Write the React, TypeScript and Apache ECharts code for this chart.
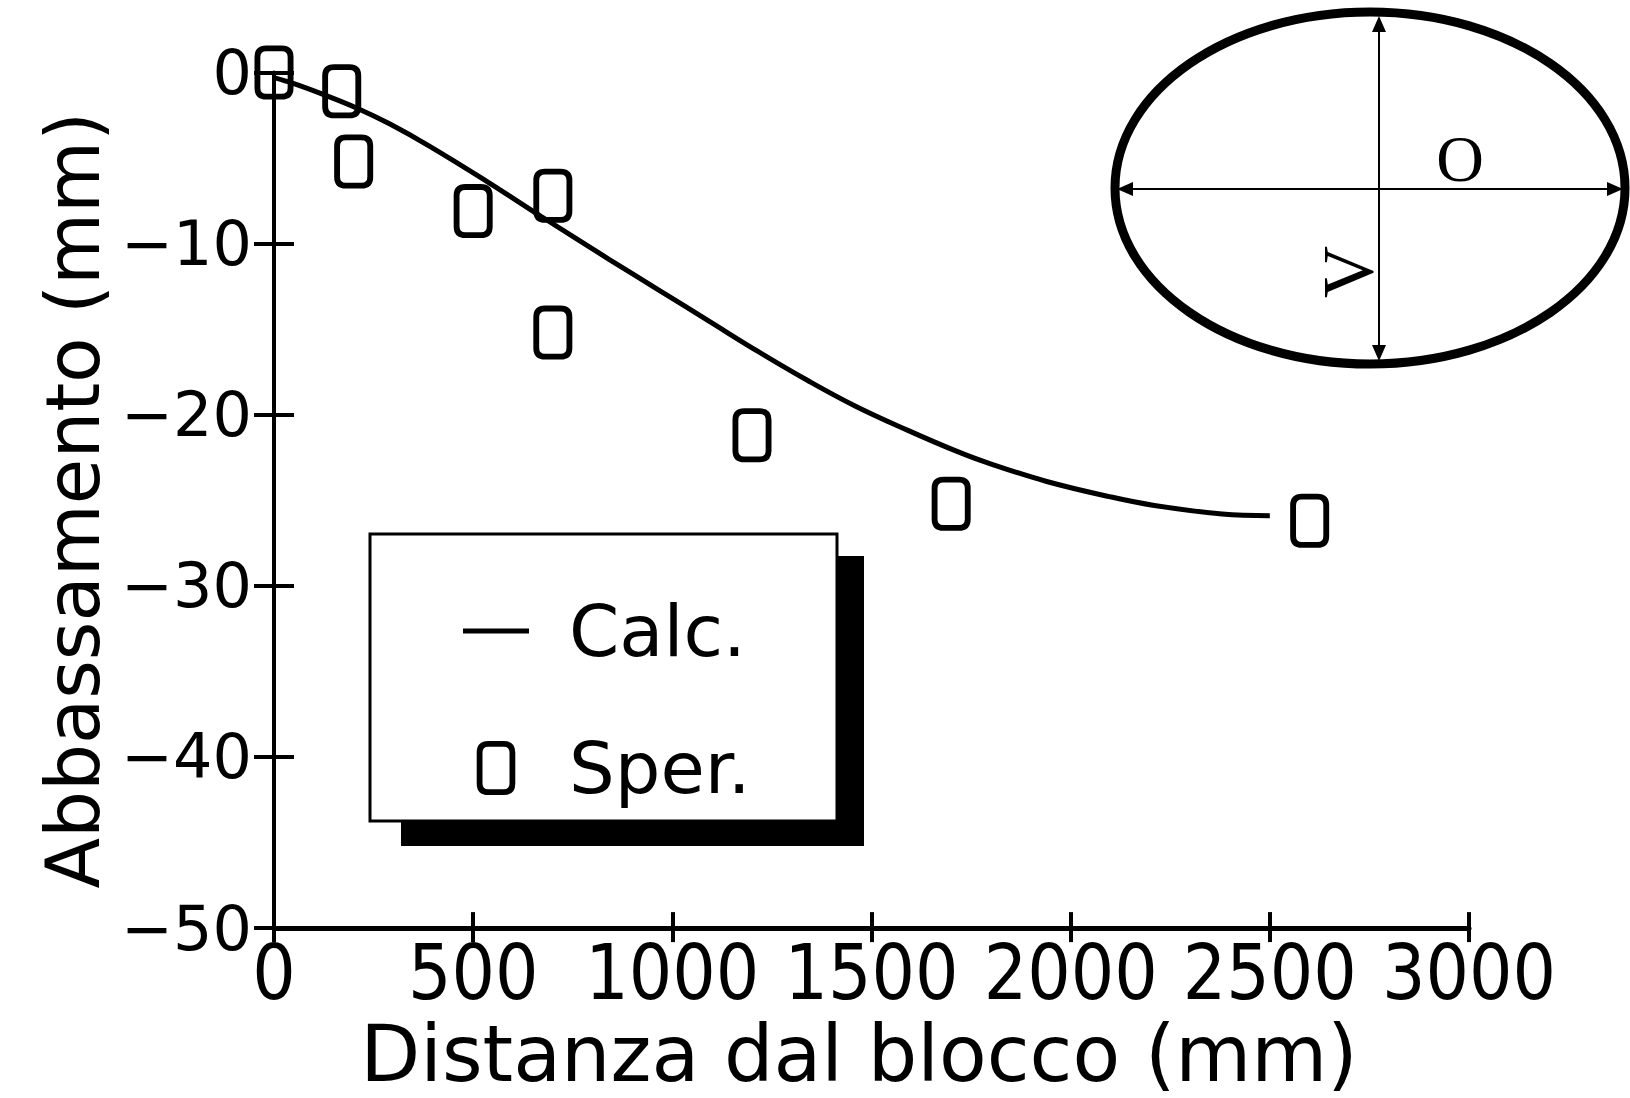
import React, { useEffect, useRef } from "react";
import * as echarts from "echarts";

// Experimental points ("Sper.")
const sperX = [0, 170, 200, 500, 700, 700, 1200, 1700, 2600];
const sperY = [0, -1.1, -5.2, -8.1, -7.2, -15.2, -21.2, -25.2, -26.2];

// Calculated curve ("Calc.")
const calcX = [0, 50, 120, 210, 290, 390, 530, 670, 840, 965, 1090, 1215, 1340, 1460, 1590, 1710, 1790, 1940, 2100, 2210, 2380, 2500];
const calcY = [-0.3, -0.65, -1.25, -2.1, -3.0, -4.3, -6.3, -8.4, -10.9, -12.7, -14.5, -16.3, -18.0, -19.5, -20.9, -22.1, -22.8, -23.9, -24.8, -25.3, -25.8, -25.9];

const seriesNames = ["Calc.", "Sper."];
const xTitle = "Distanza dal blocco (mm)";
const yTitle = "Abbassamento (mm)";
const xRange = [0, 3000, 500];
const yRange = [-50, 0, 10];

const zeroSymbol =
  "path://M12,0 H28 Q40,0 40,12 V44 Q40,56 28,56 H12 Q0,56 0,44 V12 Q0,0 12,0 Z M12,6 Q6,6 6,12 V44 Q6,50 12,50 H28 Q34,50 34,44 V12 Q34,6 28,6 Z";
const lineIcon = "path://M0,0 H66 V5 H0 Z";

const fmtNum = (v: number) => (v < 0 ? "\u2212" + Math.abs(v) : String(v));

export default function App() {
  const ref = useRef<HTMLDivElement>(null);
  useEffect(() => {
    if (!ref.current) return;
    const chart = echarts.init(ref.current, null, { renderer: "svg" });
    const calcData = calcX.map((x, i) => [x, calcY[i]]);
    const sperData = sperX.map((x, i) => [x, sperY[i]]);
    const sansFont = "'DejaVu Sans', sans-serif";
    const narrowFont = "'Liberation Sans Narrow', 'DejaVu Sans Condensed', 'DejaVu Sans', sans-serif";
    const serifFont = "'Liberation Serif', 'DejaVu Serif', serif";
    const baseX = {
      type: "value",
      min: xRange[0],
      max: xRange[1],
      interval: xRange[2],
      splitLine: { show: false },
    };
    const baseY = {
      type: "value",
      min: yRange[0],
      max: yRange[1],
      interval: yRange[2],
      splitLine: { show: false },
    };
    chart.setOption({
      animation: false,
      backgroundColor: "#ffffff",
      grid: { left: 274, top: 72.5, right: 161, bottom: 163, containLabel: false },
      xAxis: [
        {
          ...baseX,
          position: "bottom",
          name: xTitle,
          nameLocation: "middle",
          nameGap: 80,
          nameTextStyle: { fontFamily: sansFont, fontSize: 78, color: "#000", padding: [0, 25, 0, 0] },
          axisLine: { show: true, onZero: false, lineStyle: { color: "#000", width: 5 } },
          axisTick: { show: true, inside: false, length: 14, lineStyle: { color: "#000", width: 4 } },
          axisLabel: {
            show: true,
            margin: 6,
            fontFamily: narrowFont,
            fontSize: 76,
            color: "#000",
            formatter: fmtNum,
          },
        },
        {
          ...baseX,
          position: "bottom",
          axisLine: { show: false, onZero: false },
          axisTick: { show: true, inside: true, length: 16, lineStyle: { color: "#000", width: 4 } },
          axisLabel: { show: false },
        },
      ],
      yAxis: [
        {
          ...baseY,
          position: "left",
          name: yTitle,
          nameLocation: "middle",
          nameRotate: 90,
          nameGap: 162,
          nameTextStyle: { fontFamily: sansFont, fontSize: 74, color: "#000" },
          axisLine: { show: true, onZero: false, lineStyle: { color: "#000", width: 4 } },
          axisTick: { show: true, inside: false, length: 20, lineStyle: { color: "#000", width: 4 } },
          axisLabel: {
            show: true,
            margin: 22,
            fontFamily: sansFont,
            fontSize: 62,
            color: "#000",
            formatter: fmtNum,
          },
        },
        {
          ...baseY,
          position: "left",
          axisLine: { show: false, onZero: false },
          axisTick: { show: true, inside: true, length: 20, lineStyle: { color: "#000", width: 4 } },
          axisLabel: { show: false },
        },
      ],
      legend: {
        orient: "vertical",
        left: 458,
        top: 590,
        itemWidth: 66,
        itemHeight: 54,
        itemGap: 65,
        selectedMode: false,
        textStyle: {
          fontFamily: sansFont,
          fontSize: 72,
          lineHeight: 72,
          color: "#000",
          padding: [0, 0, 0, 35],
        },
        data: [
          { name: seriesNames[0], icon: lineIcon, itemStyle: { color: "#000" } },
          { name: seriesNames[1], icon: zeroSymbol, itemStyle: { color: "#000" } },
        ],
      },
      graphic: [
        {
          type: "rect",
          z: 0,
          shape: { x: 401, y: 556, width: 463, height: 290 },
          style: { fill: "#000" },
        },
        {
          type: "rect",
          z: 1,
          shape: { x: 370, y: 534, width: 467, height: 287 },
          style: { fill: "#fff", stroke: "#000", lineWidth: 3 },
        },
        {
          type: "ellipse",
          shape: { cx: 1370, cy: 188, rx: 255, ry: 176 },
          style: { fill: "transparent", stroke: "#000", lineWidth: 9 },
        },
        {
          type: "line",
          shape: { x1: 1120, y1: 189, x2: 1620, y2: 189 },
          style: { stroke: "#000", lineWidth: 2 },
        },
        {
          type: "line",
          shape: { x1: 1379, y1: 20, x2: 1379, y2: 358 },
          style: { stroke: "#000", lineWidth: 2 },
        },
        {
          type: "polygon",
          shape: { points: [[1117, 189], [1133, 182], [1133, 196]] },
          style: { fill: "#000" },
        },
        {
          type: "polygon",
          shape: { points: [[1623, 189], [1607, 182], [1607, 196]] },
          style: { fill: "#000" },
        },
        {
          type: "polygon",
          shape: { points: [[1379, 16], [1372, 32], [1386, 32]] },
          style: { fill: "#000" },
        },
        {
          type: "polygon",
          shape: { points: [[1379, 361], [1372, 345], [1386, 345]] },
          style: { fill: "#000" },
        },
        {
          type: "text",
          x: 1460,
          y: 158,
          style: {
            text: "O",
            font: "66px " + serifFont,
            fill: "#000",
            align: "center",
            verticalAlign: "middle",
          },
        },
        {
          type: "text",
          x: 1348,
          y: 272,
          rotation: Math.PI / 2,
          style: {
            text: "V",
            font: "72px " + serifFont,
            fill: "#000",
            align: "center",
            verticalAlign: "middle",
          },
        },
      ],
      series: [
        {
          name: seriesNames[0],
          type: "line",
          data: calcData,
          symbol: "none",
          smooth: 0.4,
          lineStyle: { color: "#000", width: 5 },
          itemStyle: { color: "#000" },
          z: 3,
        },
        {
          name: seriesNames[1],
          type: "scatter",
          data: sperData,
          symbol: zeroSymbol,
          symbolSize: [39, 54],
          itemStyle: { color: "#000", opacity: 1 },
          z: 4,
        },
      ],
    });
    return () => chart.dispose();
  }, []);
  return (
    <div
      ref={ref}
      style={{ position: "absolute", left: 0, top: 0, width: 1630, height: 1098, background: "#fff" }}
    />
  );
}
